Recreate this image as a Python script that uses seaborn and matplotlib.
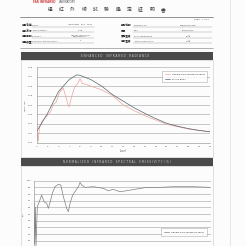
import numpy as np
import pandas as pd
import matplotlib
matplotlib.use("Agg")
import matplotlib.pyplot as plt
import seaborn as sns
from matplotlib.patches import Rectangle
from matplotlib.lines import Line2D

# ---------------- data ----------------
level_bb = [4, 5, 6, 7, 7.7, 8, 9, 10, 11, 12, 13, 14, 15, 16, 17, 18, 19, 20]
radiance_bb = [0.012, 0.031, 0.054, 0.067, 0.072, 0.0715, 0.067, 0.060, 0.051, 0.044,
               0.037, 0.031, 0.0255, 0.0206, 0.0175, 0.015, 0.013, 0.0117]

level_sample = [4.0, 4.15, 4.25, 4.5, 5.0, 5.3, 5.5, 5.8, 6.1, 6.45, 6.7, 6.9, 7.0, 7.2,
                7.5, 7.8, 8.0, 8.2, 8.5, 9.0, 10, 11, 12, 13, 14, 15, 16, 17, 18, 19, 20]
radiance_sample = [0.012, 0.002, 0.016, 0.023, 0.029, 0.033, 0.040, 0.043, 0.053, 0.058,
                   0.048, 0.040, 0.038, 0.048, 0.059, 0.063, 0.068, 0.063, 0.062, 0.060,
                   0.056, 0.050, 0.040, 0.034, 0.0285, 0.024, 0.0195, 0.017, 0.0145,
                   0.013, 0.0115]

level_emis = [4.0, 4.06, 4.12, 4.18, 4.30, 4.48, 4.69, 4.91, 5.15, 5.30, 5.51, 5.66, 5.90,
              6.20, 6.42, 6.66, 6.96, 7.11, 7.26, 7.50, 7.71, 8.02, 8.17, 8.32, 8.62,
              9.37, 10.28, 10.73, 11.18, 11.79, 12.39, 13.30, 14.20, 15.41, 16.62,
              18.43, 19.94]
emissivity = [66, 5, 60, 2, 61, 68.5, 78.5, 68.5, 66, 58.5, 71, 81, 91, 94.5, 93.5, 76,
              58.5, 53.5, 66, 78.5, 83.5, 91, 97.5, 93.5, 90, 91, 88.5, 85, 87, 83.5,
              85, 87.5, 90, 90, 91, 91, 90]

x_ticks = list(range(4, 21))
y1_ticks = [0.00, 0.01, 0.02, 0.03, 0.04, 0.05, 0.06, 0.07, 0.08]
y2_ticks = [10, 20, 30, 40, 50, 60, 70, 80, 90, 100]

title_chars = ["遠", "紅", "外", "線", "試", "驗", "鑑", "定", "証", "明", "書"]
series_sample = "Sample Fibre 3M Natural Tapes"
series_bb = "BLACK BODY"

# ---------------- setup ----------------
sns.set_theme(style="white")
plt.rcParams["font.family"] = ["DejaVu Sans", "Noto Sans CJK TC"]

W = 246.0
fig = plt.figure(figsize=(2.46, 2.46), dpi=100)
fig.patch.set_facecolor("#fcfcfc")

def fx(x):
    return x / W

def fy(y):
    return 1 - y / W

def hline(x0, x1, y, color="#777777", lw=0.4):
    fig.add_artist(Line2D([fx(x0), fx(x1)], [fy(y), fy(y)], transform=fig.transFigure,
                          color=color, lw=lw))

def rect(x0, y0, x1, y1, fc="none", ec="none", lw=0.4):
    fig.add_artist(Rectangle((fx(x0), fy(y1)), (x1 - x0) / W, (y1 - y0) / W,
                             transform=fig.transFigure, facecolor=fc, edgecolor=ec, lw=lw))

# ---------------- header ----------------
fig.text(fx(33), fy(2.2), "FAR INFRARED", color="#d04040", fontsize=2.0, va="center",
         fontweight="bold")
fig.text(fx(59), fy(2.2), "LABORATORY", color="#555555", fontsize=1.9, va="center")
for i, ch in enumerate(title_chars):
    fig.text(fx(50 + i * 11.3), fy(9.5), ch, color="#333333", fontsize=3.4,
             ha="center", va="center", family=["Noto Sans CJK TC", "DejaVu Sans"])
hline(20, 213, 17.3, color="#666666", lw=0.5)
fig.text(fx(209), fy(20), "Page   1 of 2", fontsize=1.7, ha="right", va="center", color="#555555")

left_rows = [("樣品名稱", "Sample", "INFRARED   RAY   TEST"),
             ("測試方法", "Testing Method", "FT-IR"),
             ("樣品型號", "Equipment", "Nicolet iS10 FT-IR\nSpectrometer"),
             ("樣品數量", "Number of Test Specimens", "1")]
right_rows = [("報告編號", "Reference no.", "CTR/2013/0188"),
              ("日期", "Date", "2013/04/12"),
              ("環境溫度", "Room Temperature", "25℃"),
              ("測試溫度", "Testing Temperature", "37℃")]
row_y = [25, 30.5, 36, 41]
for (cn, en, val), y in zip(left_rows, row_y):
    fig.text(fx(21.5), fy(y), cn, fontsize=1.9, va="center", color="#222222",
             family=["Noto Sans CJK TC", "DejaVu Sans"], fontweight="bold")
    fig.text(fx(32), fy(y), en, fontsize=1.4, va="center", color="#555555")
    fig.text(fx(80), fy(y - 0.3), val, fontsize=1.5, va="center", ha="center",
             color="#444444", linespacing=0.9)
    hline(31.5, 94, y + 1.6, color="#999999", lw=0.3)
for (cn, en, val), y in zip(right_rows, row_y):
    fig.text(fx(120.5), fy(y), cn, fontsize=1.9, va="center", color="#222222",
             family=["Noto Sans CJK TC", "DejaVu Sans"], fontweight="bold")
    fig.text(fx(134), fy(y), en, fontsize=1.4, va="center", color="#555555")
    fig.text(fx(188), fy(y), val, fontsize=1.5, va="center", ha="center", color="#444444")
    hline(133, 212, y + 1.6, color="#999999", lw=0.3)
hline(20, 213, 47.5, color="#777777", lw=0.4)

# ---------------- title bars & panels ----------------
rect(21, 60, 213, 156.5, ec="#c8c8c8", lw=0.4)
rect(21, 166, 213, 250, ec="#c8c8c8", lw=0.4)
rect(21, 51.7, 213, 60, fc="#4a4a4a")
rect(21, 158.3, 213, 166, fc="#4a4a4a")
fig.text(fx(115), fy(56), "E N H A N C E D    I N F R A R E D    R A D I A N C E",
         color="#cfcfcf", fontsize=2.0, ha="center", va="center")
fig.text(fx(117), fy(162.2),
         "N O R M A L I Z E D    I N F R A R E D    S P E C T R A L    E M I S S I V I T Y  ( % )",
         color="#cfcfcf", fontsize=2.0, ha="center", va="center")

# scanner edge
fig.add_artist(Line2D([fx(230), fx(230)], [0, 1], transform=fig.transFigure,
                      color="#dddddd", lw=0.5))

# ---------------- chart 1 ----------------
ax1 = fig.add_axes([fx(36.7), fy(142.7), (210 - 36.7) / W, (142.7 - 67.3) / W])
df1 = pd.concat([
    pd.DataFrame({"level": level_sample, "value": radiance_sample, "series": series_sample}),
    pd.DataFrame({"level": level_bb, "value": radiance_bb, "series": series_bb}),
])
sns.lineplot(data=df1, x="level", y="value", hue="series", ax=ax1,
             palette={series_sample: "#eca59b", series_bb: "#56636c"},
             hue_order=[series_sample, series_bb], linewidth=0.5, sort=False,
             estimator=None)
ax1.set_xlim(4, 20)
ax1.set_ylim(0, 0.08)
ax1.set_xticks(x_ticks)
ax1.set_yticks(y1_ticks)
ax1.set_yticklabels([f"{v:.2f}" for v in y1_ticks])
ax1.tick_params(labelsize=1.7, length=0.8, width=0.3, pad=1.5, colors="#555555")
ax1.grid(axis="y", color="#a0a0a0", lw=0.4)
ax1.set_facecolor("none")
for s in ax1.spines.values():
    s.set_color("#888888")
    s.set_linewidth(0.4)
ax1.spines["top"].set_visible(False)
ax1.spines["right"].set_visible(False)
ax1.set_xlabel("Level", fontsize=1.8, labelpad=1.5, color="#555555")
ax1.set_ylabel("W/cm²·μm", fontsize=1.6, labelpad=1.5, color="#555555")
leg1 = ax1.legend(loc="upper right", bbox_to_anchor=(0.99, 0.965), fontsize=1.5,
                  frameon=True, handlelength=2.5, borderpad=1.2, labelspacing=1.6,
                  handletextpad=0.8, fancybox=False)
leg1.get_frame().set_edgecolor("#999999")
leg1.get_frame().set_linewidth(0.4)
for ln in leg1.get_lines():
    ln.set_linewidth(0.5)

# ---------------- chart 2 ----------------
ax2 = fig.add_axes([fx(34), fy(247.4), (210.7 - 34) / W, (247.4 - 180.7) / W])
df2 = pd.DataFrame({"level": level_emis, "value": emissivity, "series": series_sample})
sns.lineplot(data=df2, x="level", y="value", hue="series", ax=ax2,
             palette={series_sample: "#808080"}, linewidth=0.5, sort=False,
             estimator=None)
ax2.set_xlim(4, 20)
ax2.set_ylim(0, 100)
ax2.set_xticks(x_ticks)
ax2.set_xticklabels([])
ax2.set_yticks(y2_ticks)
ax2.tick_params(labelsize=1.7, length=0.8, width=0.3, pad=1.5, colors="#555555")
ax2.grid(axis="y", color="#a0a0a0", lw=0.4)
ax2.set_facecolor("none")
for s in ax2.spines.values():
    s.set_color("#888888")
    s.set_linewidth(0.4)
ax2.spines["top"].set_visible(False)
ax2.spines["right"].set_visible(False)
ax2.set_xlabel("")
ax2.set_ylabel("(%)", fontsize=1.6, labelpad=2, color="#555555")
leg2 = ax2.legend(loc="upper right", bbox_to_anchor=(0.986, 0.31), fontsize=1.5,
                  frameon=True, handlelength=2.5, borderpad=1.6, handletextpad=0.8,
                  fancybox=False)
leg2.get_frame().set_edgecolor("#999999")
leg2.get_frame().set_linewidth(0.4)
for ln in leg2.get_lines():
    ln.set_linewidth(0.5)

fig.savefig("out.png", dpi=100, facecolor=fig.get_facecolor())
